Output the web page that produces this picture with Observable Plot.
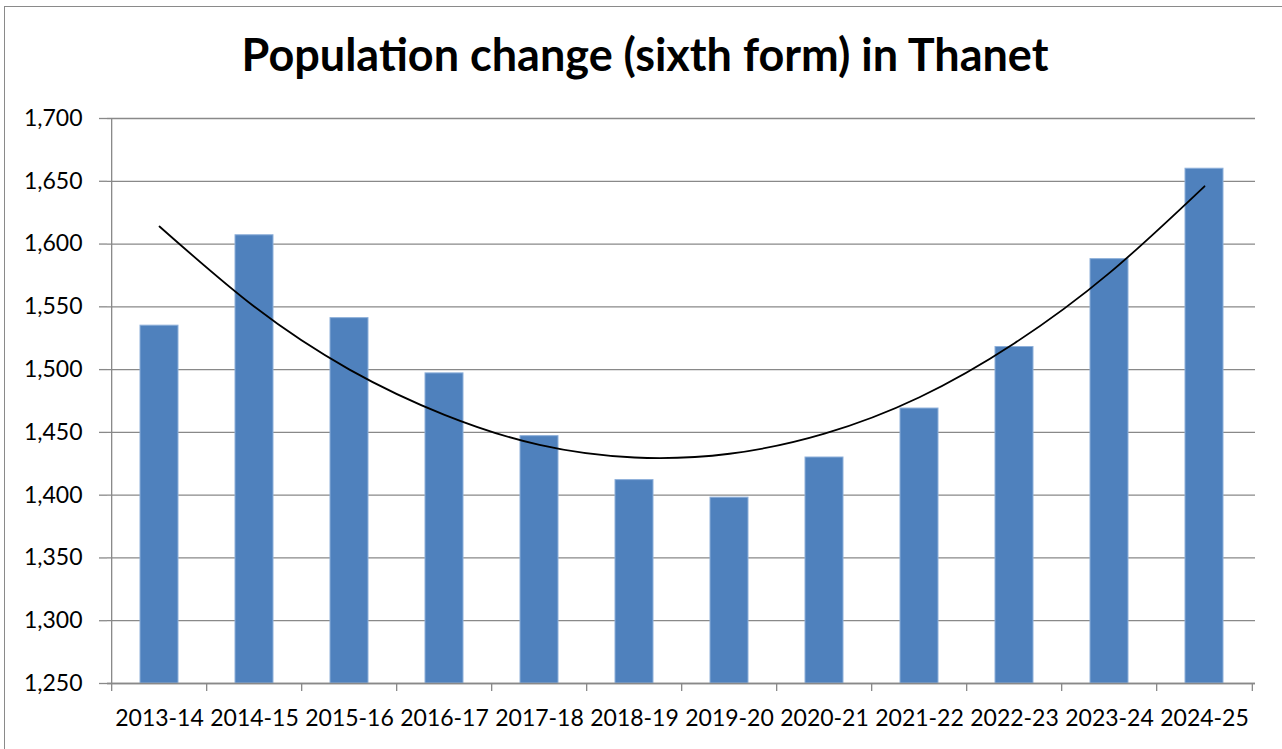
<!DOCTYPE html>
<html>
<head>
<meta charset="utf-8">
<script src="https://cdn.jsdelivr.net/npm/d3@7"></script>
<script src="https://cdn.jsdelivr.net/npm/@observablehq/plot@0.6"></script>
<style>
  html, body { margin: 0; padding: 0; background: #fff; }
  #wrap { position: relative; width: 1282px; height: 749px; overflow: hidden; font-family: Lato, "Open Sans", sans-serif; }
  #border { position: absolute; left: 4px; top: 6px; width: 1400px; height: 800px; border: 1px solid #8a8a8a; box-sizing: border-box; }
  #title { position: absolute; left: 0; top: 28px; width: 1290px; text-align: center; font-weight: bold; font-size: 45px; line-height: 52px; color: #000; }
  #chart { position: absolute; left: 0; top: 90px; }
</style>
</head>
<body>
<div id="wrap">
  <div id="border"></div>
  <div id="title">Population change (sixth form) in Thanet</div>
  <div id="chart"></div>
</div>
<script>
const categories = ["2013-14","2014-15","2015-16","2016-17","2017-18","2018-19","2019-20","2020-21","2021-22","2022-23","2023-24","2024-25"];
const population = [1535, 1607, 1541, 1497, 1447, 1412, 1398, 1430, 1469, 1518, 1588, 1660];
const trend = [1614, 1550, 1500, 1464, 1440, 1430, 1433, 1449, 1478, 1521, 1577, 1646];
const yTicks = [1250, 1300, 1350, 1400, 1450, 1500, 1550, 1600, 1650, 1700];

const data = categories.map((c, i) => ({cat: c, value: population[i], trend: trend[i]}));

const W = 1282, H = 659, mL = 107, mR = 27, mT = 28, mB = 66;
const step = (W - mL - mR) / categories.length;
const grid = "#898989";

const chart = Plot.plot({
  width: W,
  height: H,
  marginLeft: mL,
  marginRight: mR,
  marginTop: mT,
  marginBottom: mB,
  style: {fontFamily: "Lato, 'Open Sans', sans-serif", fontSize: "23px", color: "#000", background: "transparent"},
  x: {domain: categories, paddingInner: 0.6, paddingOuter: 0.3, label: null},
  y: {domain: [1250, 1700], label: null},
  marks: [
    Plot.gridY(yTicks, {stroke: grid, strokeOpacity: 1, strokeWidth: 1.3}),
    Plot.barY(data, {x: "cat", y1: 1250, y2: "value", fill: "#4F81BD", stroke: "#8EB0DA", strokeWidth: 1}),
    Plot.line(data, {x: "cat", y: "trend", curve: "natural", stroke: "#000", strokeWidth: 1.8}),
    Plot.ruleY([1250], {stroke: grid, strokeWidth: 1.3}),
    Plot.ruleX([categories[0]], {x: d => d, dx: -step * 0.5, stroke: grid, strokeWidth: 1.3}),
    Plot.ruleX(categories, {x: d => d, dx: -step * 0.5, y1: 1250, y2: 1250, insetBottom: -8, stroke: grid, strokeWidth: 1.3}),
    Plot.ruleX([categories[categories.length - 1]], {x: d => d, dx: step * 0.5, y1: 1250, y2: 1250, insetBottom: -8, stroke: grid, strokeWidth: 1.3}),
    Plot.axisY(yTicks, {tickFormat: d3.format(","), tickSize: 8, tickPadding: 17, stroke: grid, strokeWidth: 1.3, fill: "#000", fontSize: 23}),
    Plot.axisX({tickSize: 0, tickPadding: 26, fill: "#000", fontSize: 23})
  ]
});
document.getElementById("chart").appendChild(chart);
</script>
</body>
</html>
